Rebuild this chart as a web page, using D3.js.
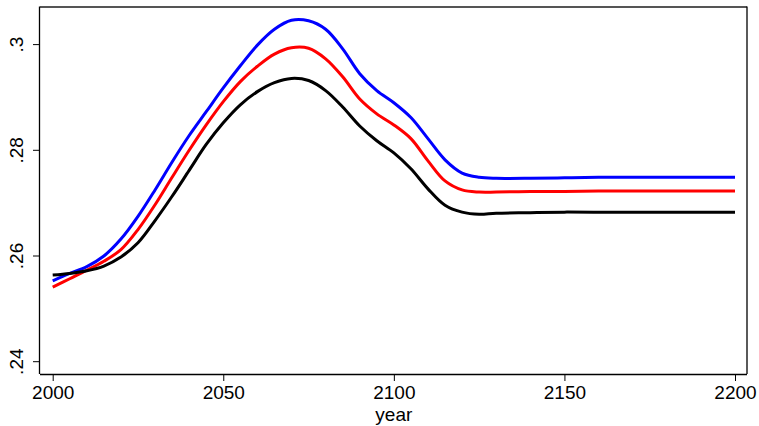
<!DOCTYPE html>
<html><head><meta charset="utf-8">
<script src="https://cdn.jsdelivr.net/npm/d3@7"></script>
<style>body{margin:0;background:#fff}svg{display:block}text{font-family:"Liberation Sans",Arial,sans-serif}</style>
</head><body>
<svg id="c" width="759" height="426"></svg>
<script>
const years = [2000,2005,2010,2015,2020,2025,2030,2035,2040,2045,2050,2055,2060,2065,2070,2075,2080,2085,2090,2095,2100,2105,2110,2115,2120,2125,2130,2140,2150,2160,2170,2180,2190,2200];
const blackSeries = [.2564,.2567,.2572,.2581,.2598,.2625,.2667,.2713,.2762,.2811,.2852,.2886,.2911,.2928,.2936,.2932,.2913,.2882,.2846,.2818,.2795,.2765,.2727,.2696,.2683,.2679,.2681,.2682,.2683,.2683,.2683,.2683,.2683,.2683];
const blueSeries  = [.2553,.2567,.2580,.2600,.2632,.2675,.2725,.2778,.2828,.2873,.2918,.2960,.2999,.3029,.3046,.3045,.3029,.2992,.2945,.2913,.2890,.2862,.2822,.2782,.2757,.2749,.2747,.2747,.2748,.2749,.2749,.2749,.2749,.2749];
const redSeries   = [.2541,.2557,.2573,.2590,.2612,.2650,.2697,.2749,.2800,.2848,.2892,.2930,.2959,.2982,.2994,.2993,.2973,.2939,.2897,.2869,.2848,.2822,.2780,.2742,.2725,.2721,.2721,.2722,.2722,.2723,.2723,.2723,.2723,.2723];
const xTicks = [2000,2050,2100,2150,2200];
const yTicks = [.24,.26,.28,.3];
const yTickLabels = [".24",".26",".28",".3"];

const svg = d3.select("#c");
const L = 40, R = 747, T = 6.5, B = 374;
const x = d3.scaleLinear().domain([2000,2200]).range([52.7,735]);
const y = d3.scaleLinear().domain([.24,.3]).range([361.7,44.6]);

// frame
svg.append("line").attr("x1",L).attr("x2",R).attr("y1",T+0.5).attr("y2",T+0.5).attr("stroke","#555").attr("stroke-width",2);
svg.append("line").attr("x1",R).attr("x2",R).attr("y1",T).attr("y2",B).attr("stroke","#000").attr("stroke-width",1.3);

const gx = svg.append("g").attr("transform",`translate(0,${B})`)
  .call(d3.axisBottom(x).tickValues(xTicks).tickFormat(d3.format("d")).tickSize(7).tickPadding(5).tickSizeOuter(0));
gx.select(".domain").attr("d",`M${L},0.5H${R}`).attr("stroke","#000").attr("stroke-width",1.3);
gx.selectAll("text").attr("font-size",19).attr("fill","#000").attr("font-family","Liberation Sans, Arial, sans-serif");

const gy = svg.append("g").attr("transform",`translate(${L},0)`)
  .call(d3.axisLeft(y).tickValues(yTicks).tickFormat((d,i)=>yTickLabels[i]).tickSize(7).tickSizeOuter(0));
gy.select(".domain").attr("d",`M-0.5,${T}V${B}`).attr("stroke","#000").attr("stroke-width",1.3);
gy.selectAll("text").attr("font-size",19).attr("fill","#000").attr("font-family","Liberation Sans, Arial, sans-serif")
  .attr("x",null).attr("dy",null)
  .attr("text-anchor","middle")
  .attr("transform",d=>`translate(-17,${y(d)}) rotate(-90)`)
  .attr("y",0);
gy.selectAll(".tick").attr("transform","translate(0,0)");
gy.selectAll(".tick line").attr("y1",d=>y(d)).attr("y2",d=>y(d));

svg.append("text").attr("x",x(2100)).attr("y",421).attr("text-anchor","middle").attr("font-size",19).text("year");

const line = d3.line().x((d,i)=>x(years[i])).y(d=>y(d)).curve(d3.curveCatmullRom.alpha(0.5));
[[blueSeries,"#0000ff"],[redSeries,"#ff0000"],[blackSeries,"#000"]].forEach(([s,c])=>{
  svg.append("path").datum(s).attr("d",line).attr("fill","none").attr("stroke",c).attr("stroke-width",3);
});
</script>
</body></html>
